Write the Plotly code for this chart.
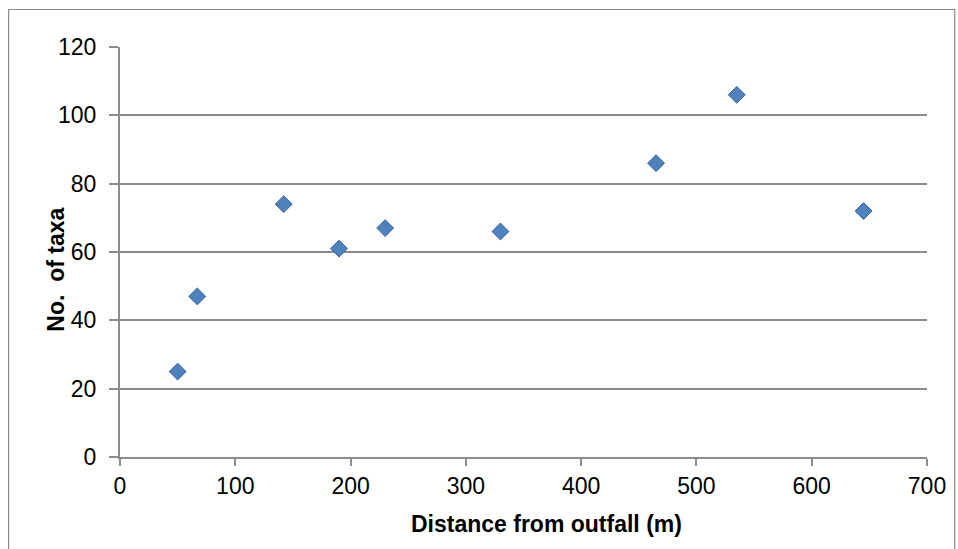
import plotly.graph_objects as go

distance_m = [50, 67, 142, 190, 230, 330, 465, 535, 645]
num_taxa = [25, 47, 74, 61, 67, 66, 86, 106, 72]
x_ticks = [0, 100, 200, 300, 400, 500, 600, 700]
y_ticks = [0, 20, 40, 60, 80, 100, 120]

W, H = 958, 549
ml, mr, mt, mb = 120, 23, 47, 92
pw, ph = W - ml - mr, H - mt - mb

fig = go.Figure()
fig.add_trace(go.Scatter(
    x=distance_m, y=num_taxa, mode="markers",
    marker=dict(symbol="diamond", size=13, color="#4F81BD",
                line=dict(color="#3A65A0", width=1)),
    showlegend=False,
))

font_family = "Liberation Sans, Arial, sans-serif"
grid_col = "#8C8C8C"

fig.update_layout(
    width=W, height=H,
    margin=dict(l=ml, r=mr, t=mt, b=mb),
    paper_bgcolor="white", plot_bgcolor="white",
    font=dict(family=font_family, size=23, color="black"),
    xaxis=dict(
        range=[0, 700], tickvals=x_ticks, ticktext=[str(v) for v in x_ticks],
        showgrid=False, zeroline=False,
        showline=True, linecolor=grid_col, linewidth=2,
        ticks="outside", ticklen=7, tickwidth=2, tickcolor=grid_col,
        tickfont=dict(size=23),
    ),
    yaxis=dict(
        range=[0, 120], tickvals=y_ticks, ticktext=[str(v) for v in y_ticks],
        showgrid=True, gridcolor=grid_col, gridwidth=2,
        zeroline=False,
        showline=True, linecolor=grid_col, linewidth=2,
        ticks="outside", ticklen=9, tickwidth=2, tickcolor=grid_col,
        tickfont=dict(size=23), ticklabelstandoff=8,
    ),
    annotations=[
        dict(text="<b>Distance from outfall (m)</b>", xref="paper", yref="paper",
             x=(551 - ml) / pw, y=-(524 - (mt + ph)) / ph,
             xanchor="center", yanchor="middle", showarrow=False,
             font=dict(size=23)),
        dict(text="<b>No.  of taxa</b>", xref="paper", yref="paper",
             x=(55 - ml) / pw, y=((mt + ph) - 270) / ph, textangle=-90,
             xanchor="center", yanchor="middle", showarrow=False,
             font=dict(size=23)),
    ],
)

# outer chart frame (extends beyond the right and bottom of the view)
fig.add_shape(type="rect", xref="paper", yref="paper",
              x0=(7.5 - ml) / pw, x1=(W + 5 - ml) / pw,
              y0=-(H + 5 - (mt + ph)) / ph, y1=1 + (mt - 9.5) / ph,
              line=dict(color="#8A8A8A", width=1.2), fillcolor="rgba(0,0,0,0)",
              layer="below")

fig.write_html("out.html")
